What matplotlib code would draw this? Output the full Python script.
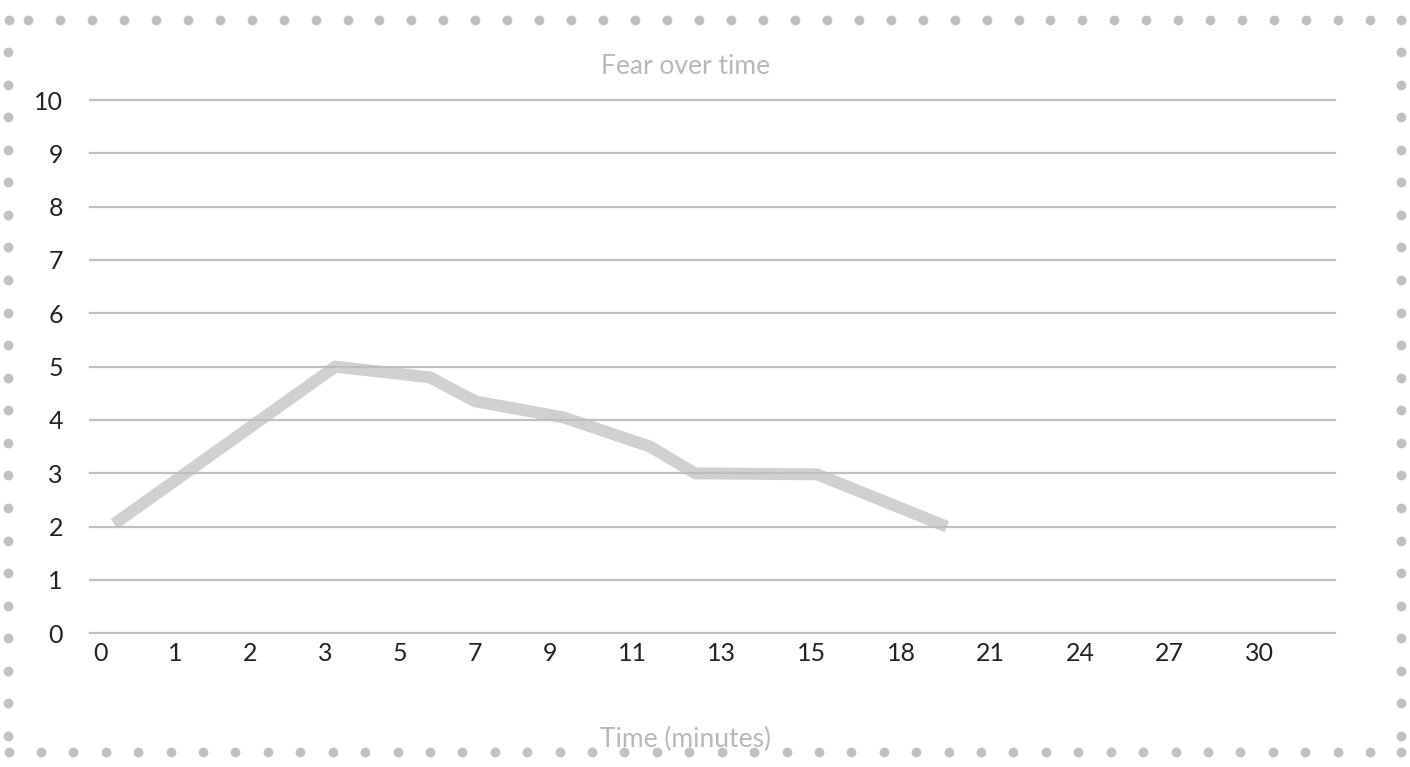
import numpy as np
import matplotlib
matplotlib.use("Agg")
import matplotlib.pyplot as plt

# Category axis labels (minutes)
time_labels = ["0", "1", "2", "3", "5", "7", "9", "11", "13", "15", "18", "21", "24", "27", "30"]
n_slots = 17

# Fear ratings along the session (x in slot units)
fear_x = [0.33, 3.35, 4.64, 5.26, 6.46, 7.65, 8.26, 9.93, 11.70]
fear_y = [2.05, 5.0, 4.8, 4.35, 4.05, 3.5, 3.0, 2.98, 2.0]

y_ticks = list(range(0, 11))

W, H = 1410, 767
fig = plt.figure(figsize=(W / 100, H / 100), dpi=100)
fig.patch.set_facecolor("white")

font = "Lato"
tick_color = "#222222"
grid_color = "#bfbfbf"
title_color = "#b8b8b8"

ax = fig.add_axes([90 / W, 1 - 633.3 / H, (1335 - 90) / W, (633.3 - 100) / H])
ax.set_xlim(0, n_slots)
ax.set_ylim(0, 10)
for s in ax.spines.values():
    s.set_visible(False)

for v in y_ticks:
    ax.axhline(v, color=grid_color, lw=1.6, clip_on=False, zorder=1)

ax.plot(fear_x, fear_y, color="#bdbdbd", alpha=0.7, lw=8.6,
        solid_capstyle="butt", solid_joinstyle="miter", zorder=2)

ax.set_yticks(y_ticks)
ax.set_yticklabels([str(v) for v in y_ticks], fontsize=18, color=tick_color, family=font)
ax.tick_params(axis="y", length=0, pad=19.5)

# x labels are laid out as a run of text: each one follows the previous
# after a fixed gap, so wider labels push the rest to the right
ax.set_xticks([])
fig.canvas.draw()
renderer = fig.canvas.get_renderer()
px_per_slot = ax.bbox.width / n_slots
gap_px = 60.5
cursor_px = 100.0 - 90.0  # centre of the first label, pixels from axes left
prev_w = None
for lab in time_labels:
    t = ax.text(0, 0, lab, fontsize=18, family=font, color=tick_color)
    w = t.get_window_extent(renderer).width
    t.remove()
    if prev_w is not None:
        cursor_px += prev_w / 2 + gap_px + w / 2
    ax.text(cursor_px / px_per_slot, -0.37, lab, fontsize=18, family=font,
            color=tick_color, ha="center", va="center",
            transform=ax.transData, clip_on=False)
    prev_w = w

fig.text(686 / W, 1 - 66.5 / H, "Fear over time", ha="center", va="center",
         fontsize=19, color=title_color, family=font)
fig.text(686 / W, 1 - 739 / H, "Time (minutes)", ha="center", va="center",
         fontsize=19, color=title_color, family=font)

# Dotted frame around the chart
frame = fig.add_axes([0, 0, 1, 1], zorder=-1)
frame.set_xlim(0, W)
frame.set_ylim(H, 0)
frame.axis("off")
dot_c = "#c0c0c0"
top_x = np.concatenate([[9], np.linspace(28, 1370, 43), [1401]])
bot_x = np.concatenate([[9], np.linspace(41, 1370, 42), [1401]])
side_y = np.linspace(52, 736, 22)
xs = np.concatenate([top_x, bot_x, np.full(side_y.size, 8), np.full(side_y.size, 1401)])
ys = np.concatenate([np.full(top_x.size, 19.5), np.full(bot_x.size, 752),
                     side_y, side_y])
frame.scatter(xs, ys, s=50, color=dot_c, linewidths=0)

fig.savefig("out.png", dpi=100, facecolor="white")
